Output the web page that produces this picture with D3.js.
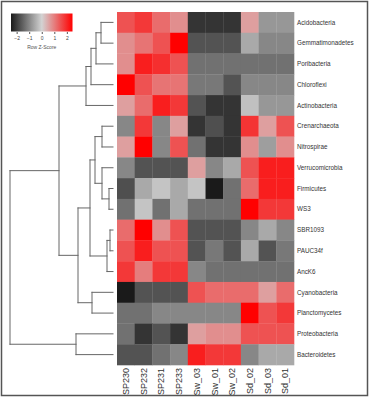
<!DOCTYPE html>
<html>
<head>
<meta charset="utf-8">
<script src="https://cdn.jsdelivr.net/npm/d3@7"></script>
<style>
  body { margin: 0; background: #fff; }
  svg { display: block; font-family: "Liberation Sans", Arial, sans-serif; }
</style>
</head>
<body>
<svg id="chart" width="370" height="397"></svg>
<script>
// rows (top to bottom, dendrogram order)
var rowLabels = ["Acidobacteria", "Gemmatimonadetes", "Poribacteria", "Chloroflexi", "Actinobacteria",
  "Crenarchaeota", "Nitrospirae", "Verrucomicrobia", "Firmicutes", "WS3", "SBR1093", "PAUC34f",
  "AncK6", "Cyanobacteria", "Planctomycetes", "Proteobacteria", "Bacteroidetes"];

var colLabels = ["SP230", "SP232", "SP231", "SP233", "Sw_03", "Sw_01", "Sw_02", "Sd_02", "Sd_03", "Sd_01"];

// row z-scores, one array per row
var zScores = [
  [1.5, 1.8, 1.2, 0.8, -2.1, -2.1, -2.1, 0.6, -0.8, -0.8],
  [0.8, 1.1, 1.5, 2.5, -1.7, -1.7, -1.7, -0.55, -1.0, -1.0],
  [0.8, 2.1, 1.9, 1.5, -1.3, -1.3, -1.3, -1.3, -1.3, -1.3],
  [2.5, 1.5, 1.1, 1.1, -1.2, -1.2, -1.7, -1.0, -1.0, -1.0],
  [0.6, 1.2, 2.1, 1.8, -1.7, -2.1, -2.1, -0.25, -0.8, -0.8],
  [-1.0, 1.8, -1.0, 0.6, -2.1, -1.75, -2.1, 1.85, 0.6, 1.5],
  [0.6, 2.5, -1.0, 1.5, -1.3, -2.1, -2.1, 0.8, -0.7, 0.8],
  [-1.0, -1.7, -1.7, -1.7, 0.6, -1.0, -0.55, 1.5, 2.1, 2.1],
  [-1.75, -0.55, -0.2, -0.55, -0.2, -2.5, -1.3, 1.2, 2.1, 2.1],
  [-1.3, -0.2, -1.3, -0.55, -1.3, -1.3, -1.3, 2.5, 1.8, 1.8],
  [1.2, 2.5, 0.8, 1.5, -1.7, -1.7, -1.7, -1.0, -0.55, -1.0],
  [1.5, 2.1, 1.5, 1.5, -1.7, -1.2, -1.7, -0.55, -1.7, -1.2],
  [1.8, 1.0, 1.8, 1.8, -1.0, -1.3, -1.3, -1.3, -1.3, -1.3],
  [-2.5, -1.7, -1.7, -1.7, 1.5, 1.2, 1.2, 1.2, 0.6, 1.2],
  [-1.3, -1.3, -1.0, -1.0, -1.0, -1.0, -1.0, 2.5, 1.5, 1.8],
  [-1.3, -2.1, -1.7, -2.1, 0.6, 0.8, 0.8, 1.5, 1.5, 1.5],
  [-1.7, -1.7, -1.3, -1.0, 2.1, 1.8, 1.8, -1.0, -0.55, -0.55]
];

// row dendrogram, hclust style: negative = leaf (row index + 1), positive = earlier merge
var merges = [
  [-1, -2, 12], [1, -3, 17], [2, -4, 22], [3, -5, 27],
  [-6, -7, 11], [-9, -10, 4], [-8, 6, 11], [5, 7, 18],
  [-11, -12, 3], [9, -13, 6], [8, 10, 23], [-14, -15, 21],
  [11, 12, 35], [4, 13, 54], [-16, -17, 37], [14, 15, 103]
];

var legendTicks = [-2, -1, 0, 1, 2];

var svg = d3.select("#chart");

// frame
svg.append("rect")
  .attr("x", 1.5).attr("y", 1.5)
  .attr("width", 366).attr("height", 394)
  .attr("fill", "none").attr("stroke", "#555").attr("stroke-width", 1.5);

var color = d3.scaleLinear()
  .domain([-2.45, 0, 2.45])
  .range(["#1a1a1a", "#d3d3d3", "#ff0000"])
  .clamp(true);

var xScale = d3.scaleBand().domain(colLabels).range([117, 294]);
var yScale = d3.scaleBand().domain(rowLabels).range([12, 365]);

// cells
var cells = [];
zScores.forEach(function (row, i) {
  row.forEach(function (v, j) { cells.push({ r: rowLabels[i], c: colLabels[j], v: v }); });
});

svg.append("g").selectAll("rect")
  .data(cells)
  .enter().append("rect")
  .attr("x", d => xScale(d.c))
  .attr("y", d => yScale(d.r))
  .attr("width", xScale.bandwidth() + 0.3)
  .attr("height", yScale.bandwidth() + 0.3)
  .attr("fill", d => color(d.v));

// row labels
svg.append("g").selectAll("text")
  .data(rowLabels)
  .enter().append("text")
  .attr("x", 297)
  .attr("y", d => yScale(d) + yScale.bandwidth() / 2)
  .attr("dy", "0.35em")
  .attr("font-size", 6.3)
  .attr("fill", "#333")
  .text(d => d);

// column labels
svg.append("g").selectAll("text")
  .data(colLabels)
  .enter().append("text")
  .attr("transform", d => "translate(" + (xScale(d) + xScale.bandwidth() / 2) + ",368) rotate(-90)")
  .attr("dy", "0.35em")
  .attr("text-anchor", "end")
  .attr("font-size", 9)
  .attr("fill", "#333")
  .text(d => d);

// dendrogram
var hScale = d3.scaleLinear().domain([0, 103]).range([113, 10]);
var nodes = [];
function pos(k) {
  if (k < 0) return { x: hScale(0), y: yScale(rowLabels[-k - 1]) + yScale.bandwidth() / 2 };
  return nodes[k - 1];
}
var segs = [];
merges.forEach(function (m) {
  var a = pos(m[0]), b = pos(m[1]), x = hScale(m[2]);
  segs.push([a.x, a.y, x, a.y], [b.x, b.y, x, b.y], [x, a.y, x, b.y]);
  nodes.push({ x: x, y: (a.y + b.y) / 2 });
});

svg.append("g").selectAll("line")
  .data(segs)
  .enter().append("line")
  .attr("x1", d => d[0]).attr("y1", d => d[1])
  .attr("x2", d => d[2]).attr("y2", d => d[3])
  .attr("stroke", "#666").attr("stroke-width", 1)
  .attr("stroke-linecap", "square");

// color key
var defs = svg.append("defs");
var grad = defs.append("linearGradient").attr("id", "key");
d3.range(0, 1.001, 0.05).forEach(function (t) {
  grad.append("stop").attr("offset", t).attr("stop-color", color(-2.45 + t * 4.9));
});
var keyScale = d3.scaleLinear().domain([-2.45, 2.45]).range([11, 72.5]);
svg.append("rect")
  .attr("x", 11).attr("y", 13.5)
  .attr("width", 61.5).attr("height", 18)
  .attr("fill", "url(#key)");

var keyAxis = svg.append("g")
  .attr("transform", "translate(0,32)")
  .call(d3.axisBottom(keyScale).tickValues(legendTicks).tickSize(2).tickFormat(d => d < 0 ? "\u2212" + (-d) : d));
keyAxis.select(".domain").remove();
keyAxis.selectAll("line").attr("stroke", "#555");
keyAxis.selectAll("text").attr("font-size", 5).attr("fill", "#444").attr("y", 4).attr("font-family", "Liberation Sans, Arial, sans-serif");

svg.append("text")
  .attr("x", keyScale(0)).attr("y", 49)
  .attr("text-anchor", "middle")
  .attr("font-size", 5)
  .attr("fill", "#555")
  .text("Row Z-Score");
</script>
</body>
</html>
